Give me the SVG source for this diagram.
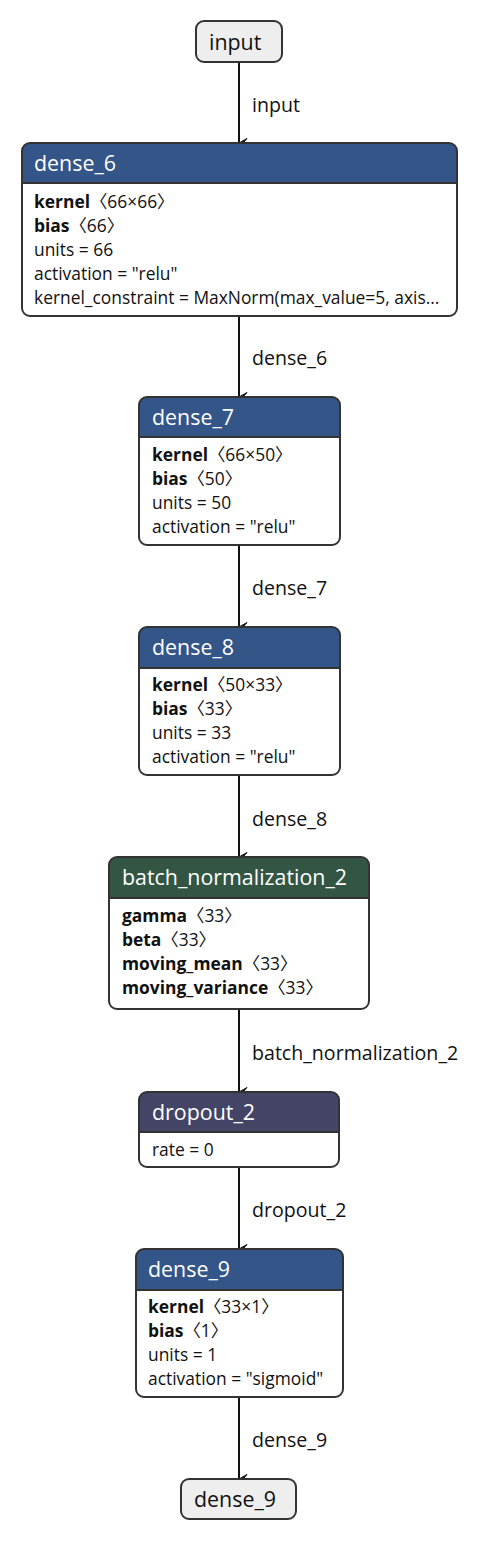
<svg xmlns="http://www.w3.org/2000/svg" width="482" height="1542" viewBox="0 0 482 1542">
<style>
text{font-family:"Open Sans","Noto Sans CJK SC","DejaVu Sans",sans-serif;fill:#111}
.t{font-size:21.4px;fill:#fff}
.b{font-size:17.4px}
.b tspan.k{font-weight:bold}
.e{font-size:19.6px}
.n{font-size:21.4px}
.box{fill:#fff;stroke:none}
.out{fill:none;stroke:#333;stroke-width:2}
.sep{stroke:#333;stroke-width:2}
.io{fill:#eeeeee;stroke:#333;stroke-width:2}
.edge{stroke:#111;stroke-width:2;fill:none;marker-end:url(#ah)}
.hb{fill:#335588}
.hg{fill:#335544}
.hp{fill:#444466}
</style>
<defs>
<marker id="ah" markerWidth="12" markerHeight="12" refX="6" refY="10" orient="auto" markerUnits="userSpaceOnUse" viewBox="0 0 12 12">
<path d="M6,10 L1.5,2 L6,6 L10.5,2 Z" fill="#111" stroke="#111" stroke-width="1" stroke-linejoin="round"/>
</marker>
</defs>
<rect width="482" height="1542" fill="#fff"/>
<g id="connectors">
<line class="edge" x1="239" y1="62" x2="239" y2="143"/>
<text class="e" x="252" y="112">input</text>
<line class="edge" x1="239" y1="316" x2="239" y2="397"/>
<text class="e" x="252" y="365">dense_6</text>
<line class="edge" x1="239" y1="545" x2="239" y2="627"/>
<text class="e" x="252" y="595">dense_7</text>
<line class="edge" x1="239" y1="775" x2="239" y2="857"/>
<text class="e" x="252" y="826">dense_8</text>
<line class="edge" x1="239" y1="1009" x2="239" y2="1092"/>
<text class="e" x="252" y="1060">batch_normalization_2</text>
<line class="edge" x1="239" y1="1167" x2="239" y2="1249"/>
<text class="e" x="252" y="1217">dropout_2</text>
<line class="edge" x1="239" y1="1397" x2="239" y2="1479"/>
<text class="e" x="252" y="1447">dense_9</text>
</g>
<g id="node-input">
<rect class="io" x="196" y="21" width="86" height="41" rx="8"/>
<text class="n" x="209" y="50">input</text>
</g>
<g id="node-dense_6">
<rect class="box" x="22" y="143" width="435" height="173" rx="8"/>
<path class="hb" d="M22,183 V151 a8,8 0 0 1 8,-8 H449 a8,8 0 0 1 8,8 V183 Z"/>
<line class="sep" x1="22" y1="183" x2="457" y2="183"/>
<rect class="out" x="22" y="143" width="435" height="173" rx="8"/>
<text class="t" x="34" y="171">dense_6</text>
<text class="b" x="34" y="208"><tspan class="k">kernel</tspan>〈66×66〉</text>
<text class="b" x="34" y="232"><tspan class="k">bias</tspan>〈66〉</text>
<text class="b" x="34" y="256">units = 66</text>
<text class="b" x="34" y="280">activation = "relu"</text>
<text class="b" x="34" y="304">kernel_constraint = MaxNorm(max_value=5, axis...</text>
</g>
<g id="node-dense_7">
<rect class="box" x="139" y="397" width="201" height="148" rx="8"/>
<path class="hb" d="M139,437 V405 a8,8 0 0 1 8,-8 H332 a8,8 0 0 1 8,8 V437 Z"/>
<line class="sep" x1="139" y1="437" x2="340" y2="437"/>
<rect class="out" x="139" y="397" width="201" height="148" rx="8"/>
<text class="t" x="152" y="425">dense_7</text>
<text class="b" x="152" y="461"><tspan class="k">kernel</tspan>〈66×50〉</text>
<text class="b" x="152" y="485"><tspan class="k">bias</tspan>〈50〉</text>
<text class="b" x="152" y="509">units = 50</text>
<text class="b" x="152" y="533">activation = "relu"</text>
</g>
<g id="node-dense_8">
<rect class="box" x="139" y="627" width="201" height="148" rx="8"/>
<path class="hb" d="M139,668 V635 a8,8 0 0 1 8,-8 H332 a8,8 0 0 1 8,8 V668 Z"/>
<line class="sep" x1="139" y1="668" x2="340" y2="668"/>
<rect class="out" x="139" y="627" width="201" height="148" rx="8"/>
<text class="t" x="152" y="655">dense_8</text>
<text class="b" x="152" y="691"><tspan class="k">kernel</tspan>〈50×33〉</text>
<text class="b" x="152" y="715"><tspan class="k">bias</tspan>〈33〉</text>
<text class="b" x="152" y="739">units = 33</text>
<text class="b" x="152" y="763">activation = "relu"</text>
</g>
<g id="node-batch_normalization_2">
<rect class="box" x="109" y="857" width="260" height="152" rx="8"/>
<path class="hg" d="M109,898 V865 a8,8 0 0 1 8,-8 H361 a8,8 0 0 1 8,8 V898 Z"/>
<line class="sep" x1="109" y1="898" x2="369" y2="898"/>
<rect class="out" x="109" y="857" width="260" height="152" rx="8"/>
<text class="t" x="122" y="885">batch_normalization_2</text>
<text class="b" x="122" y="922"><tspan class="k">gamma</tspan>〈33〉</text>
<text class="b" x="122" y="946"><tspan class="k">beta</tspan>〈33〉</text>
<text class="b" x="122" y="970"><tspan class="k">moving_mean</tspan>〈33〉</text>
<text class="b" x="122" y="994"><tspan class="k">moving_variance</tspan>〈33〉</text>
</g>
<g id="node-dropout_2">
<rect class="box" x="139" y="1092" width="200" height="75" rx="8"/>
<path class="hp" d="M139,1132 V1100 a8,8 0 0 1 8,-8 H331 a8,8 0 0 1 8,8 V1132 Z"/>
<line class="sep" x1="139" y1="1132" x2="339" y2="1132"/>
<rect class="out" x="139" y="1092" width="200" height="75" rx="8"/>
<text class="t" x="152" y="1120">dropout_2</text>
<text class="b" x="152" y="1156">rate = 0</text>
</g>
<g id="node-dense_9">
<rect class="box" x="136" y="1249" width="207" height="148" rx="8"/>
<path class="hb" d="M136,1290 V1257 a8,8 0 0 1 8,-8 H335 a8,8 0 0 1 8,8 V1290 Z"/>
<line class="sep" x1="136" y1="1290" x2="343" y2="1290"/>
<rect class="out" x="136" y="1249" width="207" height="148" rx="8"/>
<text class="t" x="148" y="1277">dense_9</text>
<text class="b" x="148" y="1313"><tspan class="k">kernel</tspan>〈33×1〉</text>
<text class="b" x="148" y="1337"><tspan class="k">bias</tspan>〈1〉</text>
<text class="b" x="148" y="1361">units = 1</text>
<text class="b" x="148" y="1385">activation = "sigmoid"</text>
</g>
<g id="node-dense_9-out">
<rect class="io" x="181" y="1479" width="115" height="40" rx="8"/>
<text class="n" x="194" y="1507">dense_9</text>
</g>
</svg>
